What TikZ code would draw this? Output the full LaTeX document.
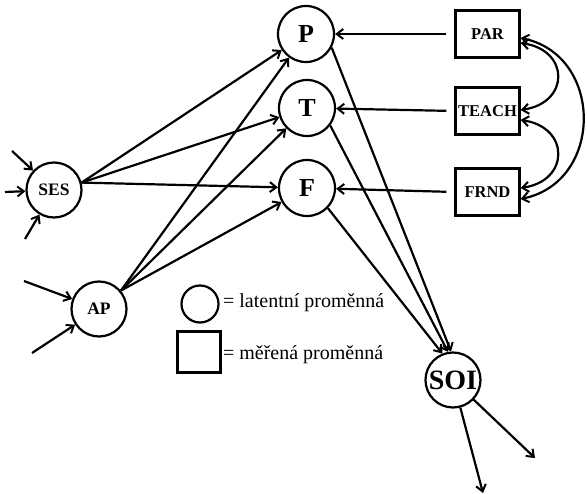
\documentclass[tikz,border=0pt]{standalone}
\usepackage{fontspec}
\setmainfont{Liberation Serif}
\usetikzlibrary{arrows.meta}
\begin{document}
\begin{tikzpicture}[x=1pt,y=-1pt,line width=2.2pt,
  arr/.style={-{Straight Barb[length=6.5pt,width=10pt,line width=2pt]}},
  biarr/.style={{Straight Barb[length=6.5pt,width=10pt,line width=2pt]}-{Straight Barb[length=6.5pt,width=10pt,line width=2pt]}},
  big/.style={circle,draw,minimum size=56pt,inner sep=0pt,font=\bfseries\fontsize{26}{26}\selectfont},
  small/.style={circle,draw,minimum size=55pt,inner sep=0pt,font=\bfseries\fontsize{17.5}{17.5}\selectfont},
  meas/.style={rectangle,draw,minimum width=64pt,minimum height=47pt,inner sep=0pt,font=\bfseries\fontsize{16.5}{16.5}\selectfont},
  legtxt/.style={anchor=base west,inner sep=0pt,font=\fontsize{20}{20}\selectfont}]
\useasboundingbox (0,0) rectangle (587,494);
% latent variables
\node[big] (P) at (306,34) {P};
\node[big] (T) at (307,108) {T};
\node[big] (F) at (307,188) {F};
\node[small] (SES) at (54,190) {SES};
\node[small] (AP) at (99,309) {AP};
\node[big,minimum size=55pt,font=\bfseries\fontsize{28}{28}\selectfont] (SOI) at (453,380) {SOI};
% measured variables
\node[meas] (PAR) at (487.5,34) {PAR};
\node[meas] (TEACH) at (487.5,111) {TEACH};
\node[meas] (FRND) at (487.5,192) {FRND};
% exogenous arrows
\coordinate (s1) at (12,151);
\coordinate (s2) at (5,192);
\coordinate (s3) at (25,239);
\coordinate (a1) at (24,281);
\coordinate (a2) at (32,353);
\coordinate (o1) at (483,493);
\coordinate (o2) at (535,458);
\draw[arr] (s1) -- (SES);
\draw[arr] (s2) -- (SES);
\draw[arr] (s3) -- (SES);
\draw[arr] (a1) -- (AP);
\draw[arr] (a2) -- (AP);
\draw[arr] (SOI) -- (o1);
\draw[arr] (SOI) -- (o2);
% structural paths
\draw[arr] (SES.15) -- (P);
\draw[arr] (SES.15) -- (T);
\draw[arr] (SES.15) -- (F);
\draw[arr] (AP.40) -- (P);
\draw[arr] (AP.40) -- (T);
\draw[arr] (AP.40) -- (F);
\draw[arr] (P.-28) -- (SOI.94);
\draw[arr] (T.-37) -- (SOI.100);
\draw[arr] (F.-44) -- (SOI.112);
\draw[arr,shorten <=8pt] (PAR.west) -- (P);
\draw[arr,shorten <=8pt] (TEACH.west) -- (T);
\draw[arr,shorten <=8pt] (FRND.west) -- (F);
% correlations
\draw[biarr] ([yshift=-9pt]PAR.east) .. controls (570,50) and (570,103) .. ([yshift=1pt]TEACH.east);
\draw[biarr] ([yshift=-9pt]TEACH.east) .. controls (570,127) and (570,181) .. ([yshift=4pt]FRND.east);
\draw[biarr] ([yshift=-4pt]PAR.east) .. controls (604,55) and (604,182) .. ([yshift=-7pt]FRND.east);
% legend
\node[circle,draw,minimum size=37pt,inner sep=0pt] (lc) at (200,304) {};
\node[rectangle,draw,minimum width=43pt,minimum height=41pt,inner sep=0pt] (lr) at (199,352) {};
\node[legtxt] (lt1) at (222,308) {= latentní proměnná};
\node[legtxt] (lt2) at (222,360) {= měřená proměnná};
\end{tikzpicture}
\end{document}
